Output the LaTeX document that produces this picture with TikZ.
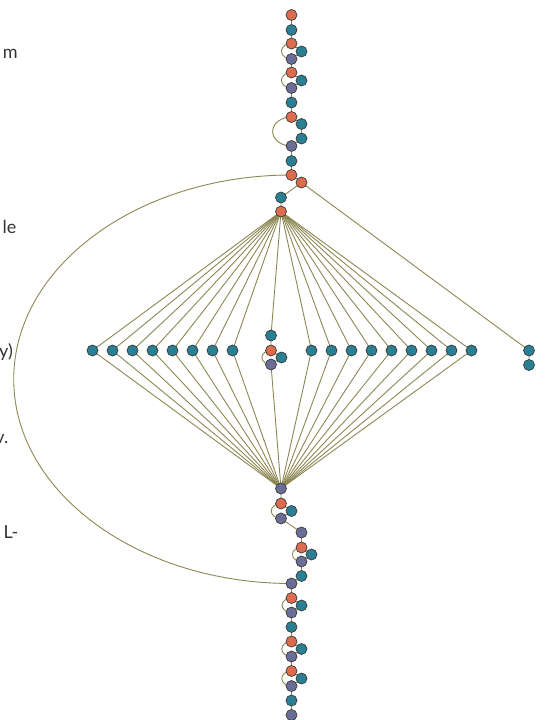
\documentclass[tikz,border=0pt]{standalone}
\usepackage{fontspec}
\setmainfont{Lato}
\usetikzlibrary{calc}
\definecolor{cO}{HTML}{DD6B4D}
\definecolor{cT}{HTML}{2A7F93}
\definecolor{cP}{HTML}{6A6E96}
\definecolor{cS}{HTML}{3A3A3A}
\definecolor{cE}{HTML}{8C8752}
\definecolor{cX}{HTML}{333333}
\pgfdeclarelayer{bg}
\pgfsetlayers{bg,main}
\newcommand\arcedge[3][1.3]{\draw[edge] let \p1=(#2.center), \p2=(#3.center), \n1={(\y1-\y2)/2}, \n2={(\y1-\y2)/2*#1} in (\p1) arc[start angle=90, end angle=270, x radius=\n2, y radius=\n1];}
\begin{document}
\begin{tikzpicture}[x=1pt,y=1pt,
  nd/.style={circle,draw=cS,line width=0.7pt,minimum size=11pt,inner sep=0pt},
  O/.style={nd,fill=cO}, T/.style={nd,fill=cT}, P/.style={nd,fill=cP},
  edge/.style={draw=cE,line width=0.9pt},
  lbl/.style={anchor=base east,text=cX,font=\fontsize{18}{20}\selectfont,inner sep=0pt}]
\useasboundingbox (0,0) rectangle (546,-720);
% labels
\node[lbl] (t1) at (18,-58) {m};
\node[lbl] (t2) at (16.5,-233) {le};
\node[lbl] (t3) at (13,-357) {y)};
\node[lbl] (t4) at (8.5,-443) {v.};
\node[lbl] (t5) at (18.5,-538) {L-};
% top chain
\node[O] (n1) at (291.5,-15) {};
\node[T] (n2) at (291.5,-30) {};
\node[O] (n3) at (291.5,-43.5) {};
\node[T] (n4) at (301.5,-51.5) {};
\node[P] (n5) at (291.5,-59) {};
\node[O] (n6) at (291.5,-72.5) {};
\node[T] (n7) at (301.5,-80.5) {};
\node[P] (n8) at (291.5,-88) {};
\node[T] (n9) at (291.5,-102.5) {};
\node[O] (n10) at (291.5,-117) {};
\node[T] (n11) at (301.5,-124) {};
\node[T] (n12) at (301.5,-138.5) {};
\node[P] (n13) at (291.5,-146) {};
\node[T] (n14) at (291.5,-161) {};
\node[O] (n15) at (291.5,-175) {};
\node[O] (n16) at (301.5,-182.5) {};
\node[T] (n17) at (281,-197.5) {};
\node[O] (hubt) at (281,-211.5) {};
% middle row
\foreach \i in {1,...,8} \node[T] (L\i) at (72.5+20*\i,-350.5) {};
\foreach \i in {1,...,9} \node[T] (R\i) at (291.5+20*\i,-350.5) {};
\node[T] (c1) at (271,-335.5) {};
\node[O] (c2) at (271,-350.5) {};
\node[T] (c3) at (281.5,-357.5) {};
\node[P] (c4) at (271,-364.5) {};
\node[T] (r1) at (529,-350.5) {};
\node[T] (r2) at (529,-365) {};
% bottom chain
\node[P] (hubb) at (281,-488.5) {};
\node[O] (b1) at (281,-503.5) {};
\node[T] (b2) at (291.5,-511) {};
\node[P] (b3) at (281,-518.5) {};
\node[P] (b4) at (301.5,-532.5) {};
\node[O] (b5) at (301.5,-547.5) {};
\node[T] (b6) at (311.5,-554.5) {};
\node[P] (b7) at (301.5,-561.5) {};
\node[T] (b8) at (301.5,-576) {};
\node[P] (b9) at (291.5,-583.5) {};
\node[O] (b10) at (291.5,-598) {};
\node[T] (b11) at (301.5,-605.5) {};
\node[P] (b12) at (291.5,-612.5) {};
\node[T] (b13) at (291.5,-627) {};
\node[O] (b14) at (291.5,-641.5) {};
\node[T] (b15) at (301.5,-649) {};
\node[P] (b16) at (291.5,-656.5) {};
\node[O] (b17) at (291.5,-671) {};
\node[T] (b18) at (301.5,-678.5) {};
\node[P] (b19) at (291.5,-686) {};
\node[T] (b20) at (291.5,-700.5) {};
\node[P] (b21) at (291.5,-715) {};
\begin{pgfonlayer}{bg}
\draw[edge] (n1.center) -- (n2.center) -- (n3.center) -- (n4.center) -- (n5.center) -- (n6.center)
  -- (n7.center) -- (n8.center) -- (n9.center) -- (n10.center) -- (n11.center) -- (n12.center)
  -- (n13.center) -- (n14.center) -- (n15.center) -- (n16.center) -- (n17.center) -- (hubt.center);
\draw[edge] (n16.center) -- (r1.center) -- (r2.center);
\foreach \i in {1,...,8} {\draw[edge] (hubt.center) -- (L\i.center) -- (hubb.center);}
\foreach \i in {1,...,9} {\draw[edge] (hubt.center) -- (R\i.center) -- (hubb.center);}
\draw[edge] (hubt.center) -- (c1.center) -- (c2.center) -- (c3.center) -- (c4.center) -- (hubb.center);
\draw[edge] (hubb.center) -- (b1.center) -- (b2.center) -- (b3.center) -- (b4.center) -- (b5.center)
  -- (b6.center) -- (b7.center) -- (b8.center) -- (b9.center) -- (b10.center) -- (b11.center)
  -- (b12.center) -- (b13.center) -- (b14.center) -- (b15.center) -- (b16.center) -- (b17.center)
  -- (b18.center) -- (b19.center) -- (b20.center) -- (b21.center);
\arcedge{n3}{n5}
\arcedge{n6}{n8}
\arcedge{n10}{n13}
\arcedge[1.36]{n15}{b9}
\arcedge{c2}{c4}
\arcedge{b1}{b3}
\arcedge{b5}{b7}
\arcedge{b10}{b12}
\arcedge{b14}{b16}
\arcedge{b17}{b19}
\end{pgfonlayer}
\end{tikzpicture}
\end{document}
